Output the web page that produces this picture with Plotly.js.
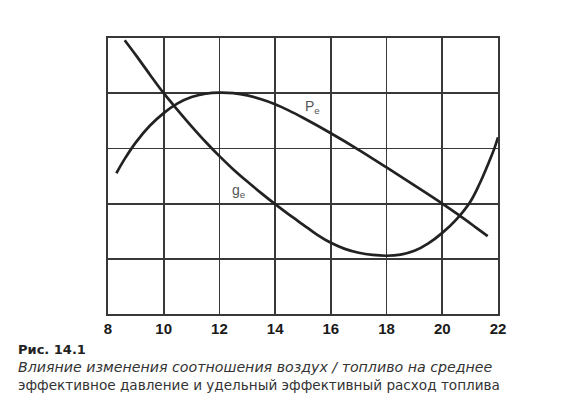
<!DOCTYPE html>
<html>
<head>
<meta charset="utf-8">
<script src="https://cdn.plot.ly/plotly-3.0.1.min.js"></script>
<style>
html,body{margin:0;padding:0;background:#fff;}
#chart{width:564px;height:405px;}
</style>
</head>
<body>
<div id="chart"></div>
<script>
// Air/fuel ratio (x) and curve values (y, in grid units)
var ratioPe = [8.3, 8.6, 9, 9.5, 10, 10.5, 11, 11.5, 12, 12.5, 13, 13.5, 14, 14.5, 15, 16, 17, 18, 19, 20, 20.6, 21.2, 21.63];
var pe      = [2.55, 2.81, 3.11, 3.41, 3.64, 3.815, 3.93, 3.99, 4.01, 4.0, 3.96, 3.89, 3.80, 3.685, 3.555, 3.275, 2.975, 2.655, 2.33, 2.0, 1.79, 1.57, 1.41];

var ratioGe = [8.6, 9, 9.5, 10, 10.5, 11, 11.5, 12, 12.5, 13, 13.5, 14, 14.5, 15, 15.5, 16, 16.5, 17, 17.5, 18, 18.5, 19, 19.5, 20, 20.5, 21, 21.33, 21.69, 21.87, 22];
var ge      = [4.96, 4.69, 4.34, 4.0, 3.695, 3.40, 3.12, 2.86, 2.62, 2.40, 2.19, 1.99, 1.80, 1.62, 1.44, 1.29, 1.18, 1.11, 1.07, 1.055, 1.075, 1.145, 1.28, 1.47, 1.71, 2.03, 2.35, 2.77, 3.0, 3.2];

var xTicks = [8, 10, 12, 14, 16, 18, 20, 22];
var yGrid  = [0, 1, 2, 3, 4, 5];

var captionTitle = 'Рис. 14.1';
var captionLine1 = 'Влияние изменения соотношения воздух / топливо на среднее';
var captionLine2 = 'эффективное давление и удельный эффективный расход топлива';

var curveColor = '#222222';
var gridColor = '#383838';

var traces = [
  {x: ratioPe, y: pe, mode: 'lines', line: {color: curveColor, width: 2.7, shape: 'spline', smoothing: 1}, hoverinfo: 'skip'},
  {x: ratioGe, y: ge, mode: 'lines', line: {color: curveColor, width: 2.7, shape: 'spline', smoothing: 1}, hoverinfo: 'skip'}
];

// paper coords helper: plot area 108..498 x, 38..314 y
function px(x){ return (x - 108) / 390; }
function py(y){ return (314 - y) / 276; }

var capFont = '"DejaVu Sans", "Liberation Sans", Arial, sans-serif';

var layout = {
  width: 564, height: 405,
  margin: {l: 108, r: 66, t: 38, b: 91},
  paper_bgcolor: '#ffffff', plot_bgcolor: '#ffffff',
  showlegend: false,
  font: {family: '"Liberation Sans", Arial, sans-serif', color: '#222'},
  xaxis: {
    range: [8, 22], tickvals: xTicks, ticktext: xTicks.map(String),
    showgrid: true, gridcolor: gridColor, gridwidth: 1.8,
    showline: true, linecolor: gridColor, linewidth: 2, mirror: true,
    zeroline: false, ticks: '', ticklabelstandoff: 0,
    tickfont: {family: '"Liberation Sans", Arial, sans-serif', size: 15, color: '#1a1a1a', weight: 'bold'}
  },
  yaxis: {
    range: [0, 5], tickvals: yGrid, showticklabels: false,
    showgrid: true, gridcolor: gridColor, gridwidth: 1.8,
    showline: true, linecolor: gridColor, linewidth: 2, mirror: true,
    zeroline: false, ticks: ''
  },
  annotations: [
    {x: 15.34, y: 3.75, xref: 'x', yref: 'y', text: 'P<sub>e</sub>', showarrow: false,
     font: {size: 14, color: '#555'}},
    {x: 12.72, y: 2.23, xref: 'x', yref: 'y', text: 'g<sub>e</sub>', showarrow: false,
     font: {size: 14, color: '#555'}},
    {x: px(16), y: py(349), xref: 'paper', yref: 'paper', xanchor: 'left', yanchor: 'middle',
     text: '<b>' + captionTitle + '</b>', showarrow: false, font: {family: capFont, size: 13, color: '#222'}},
    {x: px(16), y: py(367), xref: 'paper', yref: 'paper', xanchor: 'left', yanchor: 'middle',
     text: '<i>' + captionLine1 + '</i>', showarrow: false, font: {family: capFont, size: 14.2, color: '#333'}},
    {x: px(16), y: py(385), xref: 'paper', yref: 'paper', xanchor: 'left', yanchor: 'middle',
     text: captionLine2, showarrow: false, font: {family: capFont, size: 13.6, color: '#333'}}
  ]
};

Plotly.newPlot('chart', traces, layout, {staticPlot: true, displayModeBar: false});
</script>
</body>
</html>
